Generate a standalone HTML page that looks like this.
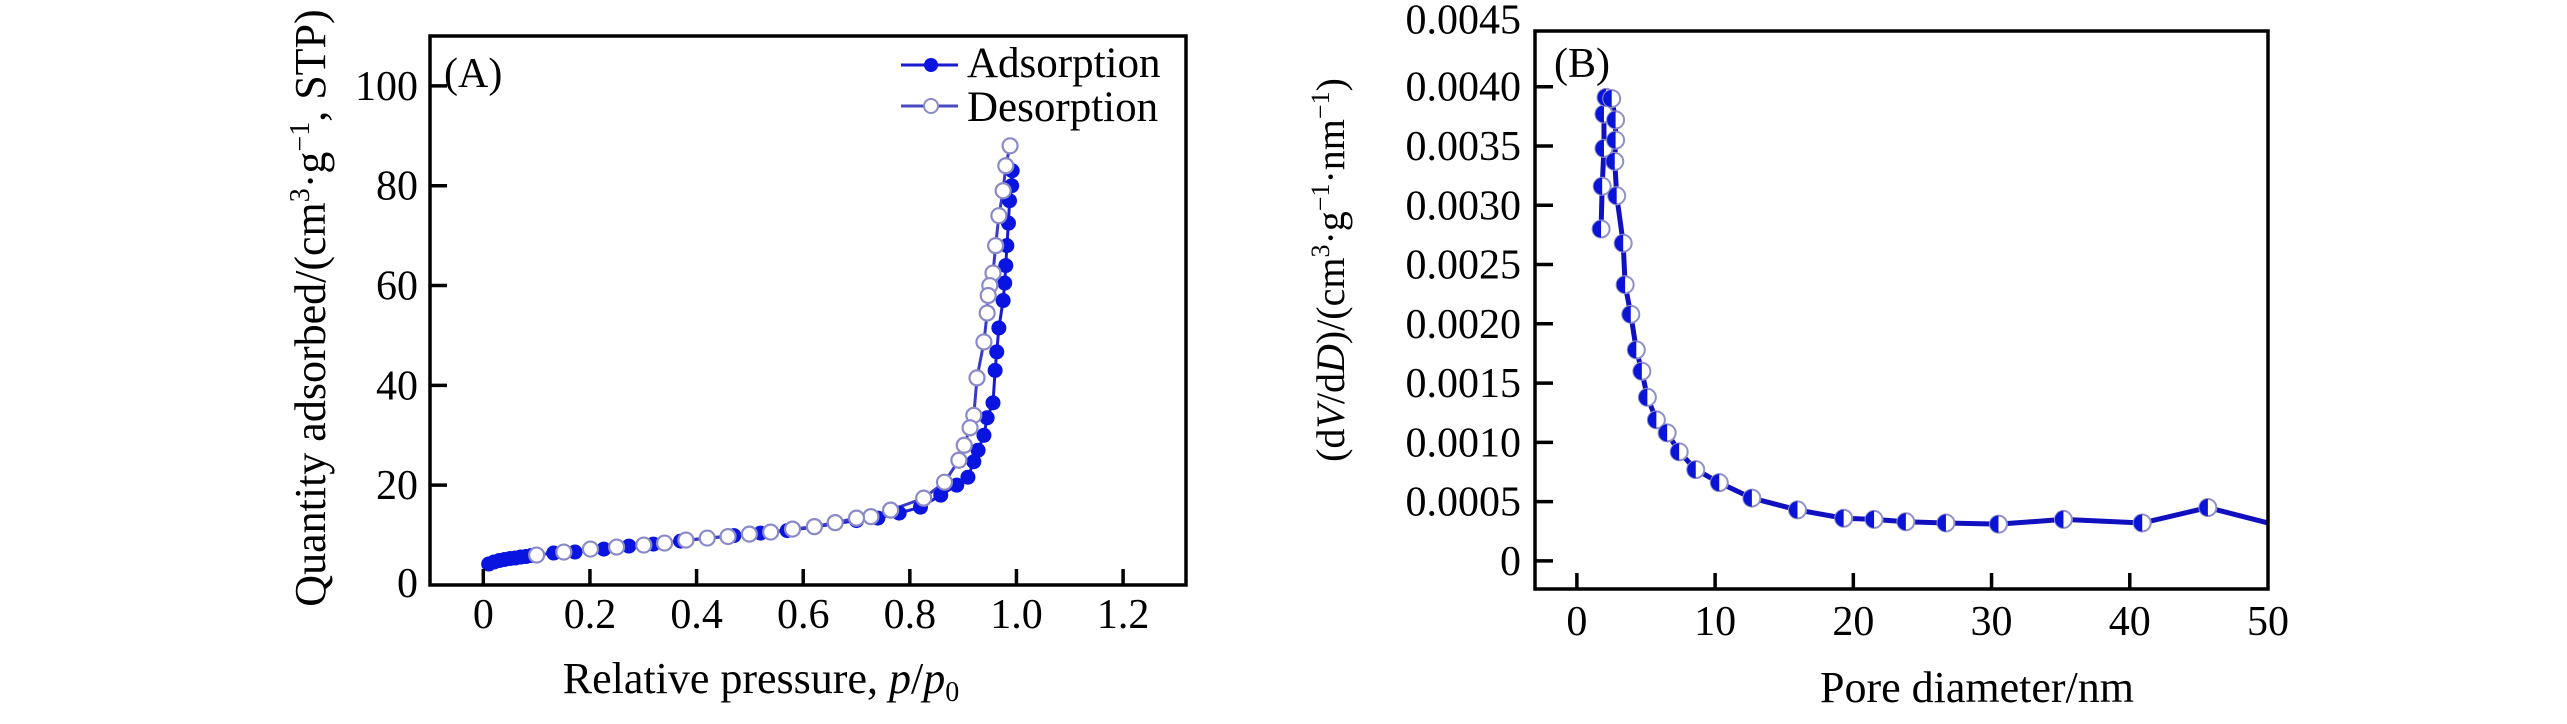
<!DOCTYPE html>
<html><head><meta charset="utf-8"><style>
html,body{margin:0;padding:0;background:#fff;}
svg{display:block;font-family:"Liberation Serif",serif;}
</style></head><body>
<svg id="svg" width="2567" height="724" viewBox="0 0 2567 724" xmlns="http://www.w3.org/2000/svg">
<g id="A"></g>
<g id="B"></g>
<text x="444" y="87" font-size="42">(A)</text>
<text x="1554" y="77" font-size="42">(B)</text>
<text transform="translate(325,308) rotate(-90)" text-anchor="middle" font-size="44">Quantity adsorbed/(cm<tspan font-size="28" dy="-16">3</tspan><tspan dy="16">·g</tspan><tspan font-size="28" dy="-16">−1</tspan><tspan dy="16">, STP)</tspan></text>
<text x="761" y="693" text-anchor="middle" font-size="44">Relative pressure, <tspan font-style="italic">p</tspan>/<tspan font-style="italic">p</tspan><tspan font-size="28" dy="8">0</tspan></text>
<text transform="translate(1344,270) rotate(-90)" text-anchor="middle" font-size="40">(d<tspan font-style="italic">V</tspan>/d<tspan font-style="italic">D</tspan>)/(cm<tspan font-size="26" dy="-15">3</tspan><tspan dy="15">·g</tspan><tspan font-size="26" dy="-15">−1</tspan><tspan dy="15">·nm</tspan><tspan font-size="26" dy="-15">−1</tspan><tspan dy="15">)</tspan></text>
<text x="1977" y="702" text-anchor="middle" font-size="44">Pore diameter/nm</text>
<g>
<line x1="901" y1="65" x2="958" y2="65" stroke="#1a1ad0" stroke-width="3"/>
<circle cx="931" cy="65" r="7" fill="#0a14e0"/>
<text x="967" y="77" font-size="43">Adsorption</text>
<line x1="901" y1="106" x2="958" y2="106" stroke="#4a4ac0" stroke-width="3"/>
<circle cx="931" cy="106" r="7" fill="#fff" stroke="#8a8ac8" stroke-width="2"/>
<text x="967" y="121" font-size="43">Desorption</text>
</g>
</svg>
<script>
// Chart A data
const adsX=[0.01,0.02,0.03,0.04,0.05,0.06,0.07,0.08,0.09,0.132,0.172,0.226,0.273,0.319,0.37,0.42,0.47,0.52,0.57,0.62,0.66,0.70,0.74,0.78,0.82,0.858,0.888,0.909,0.92,0.928,0.939,0.945,0.956,0.96,0.963,0.967,0.975,0.978,0.98,0.982,0.985,0.987,0.991,0.992];
const adsY=[4.2,4.6,4.9,5.1,5.3,5.4,5.6,5.7,5.9,6.4,6.6,7.2,7.8,8.2,8.8,9.4,9.9,10.4,10.9,11.6,12.3,12.9,13.4,14.4,15.6,18,20,21.6,24.7,27,30,33.5,36.5,43,46.7,51.5,57,60.5,64,68,72.5,77,80,83];
const desX=[0.988,0.98,0.975,0.967,0.961,0.956,0.95,0.947,0.945,0.939,0.926,0.92,0.913,0.902,0.892,0.865,0.826,0.764,0.727,0.70,0.66,0.621,0.58,0.539,0.499,0.459,0.42,0.38,0.34,0.301,0.25,0.201,0.151,0.1];
const desY=[88,84,79,74,68,62.5,60,58,54.5,48.7,41.5,34,31.5,28,25,20.6,17.4,15,13.7,13.4,12.5,11.7,11.2,10.6,10.2,9.7,9.4,9,8.4,8,7.6,7.2,6.6,6];
const aXTicks=[0,0.2,0.4,0.6,0.8,1.0,1.2];
const aXTickLabels=["0","0.2","0.4","0.6","0.8","1.0","1.2"];
const aYTicks=[0,20,40,60,80,100];
const aYTickLabels=["0","20","40","60","80","100"];
// Chart B data
const poreX=[1.75,1.83,1.96,1.96,2.11,2.52,2.8,2.8,2.74,2.88,3.35,3.49,3.9,4.3,4.7,5.1,5.75,6.53,7.4,8.6,10.3,12.66,15.96,19.3,21.5,23.8,26.7,30.5,35.2,40.9,45.65];
const poreY=[0.0028,0.00316,0.00348,0.00377,0.00391,0.0039,0.00372,0.00355,0.00337,0.00308,0.00268,0.00233,0.00208,0.00178,0.0016,0.00138,0.00119,0.00108,0.00092,0.00077,0.00066,0.00053,0.00043,0.00036,0.00035,0.00033,0.00032,0.00031,0.00035,0.00032,0.00045];
const poreEndX=[50];
const poreEndY=[0.00032];
const bXTicks=[0,10,20,30,40,50];
const bXTickLabels=["0","10","20","30","40","50"];
const bYTicks=[0,0.0005,0.0010,0.0015,0.0020,0.0025,0.0030,0.0035,0.0040,0.0045];
const bYTickLabels=["0","0.0005","0.0010","0.0015","0.0020","0.0025","0.0030","0.0035","0.0040","0.0045"];

const NS="http://www.w3.org/2000/svg";
function mk(parent,tag,attrs){const e=document.createElementNS(NS,tag);for(const k in attrs)e.setAttribute(k,attrs[k]);parent.appendChild(e);return e;}

// Axis A
const A={l:430,r:1186,t:36,b:585,x0:-0.1,x1:1.318,y0:0,y1:110};
const ax=v=>A.l+(v-A.x0)/(A.x1-A.x0)*(A.r-A.l);
const ay=v=>A.b-(v-A.y0)/(A.y1-A.y0)*(A.b-A.t);
const gA=document.getElementById('A');
let pts=adsX.map((x,i)=>ax(x)+','+ay(adsY[i])).join(' ');
let pl=mk(gA,'polyline',{points:pts,fill:'none',stroke:'#1a1ad0','stroke-width':3});


pts=desX.map((x,i)=>ax(x)+','+ay(desY[i])).join(' ');
pl=mk(gA,'polyline',{points:pts,fill:'none',stroke:'#3a3ac8','stroke-width':3});


adsX.forEach((x,i)=>{const c=mk(gA,'circle',{cx:ax(x),cy:ay(adsY[i]),r:7.5,fill:'#0a14e0'});

});
desX.forEach((x,i)=>{const c=mk(gA,'circle',{cx:ax(x),cy:ay(desY[i]),r:7.5,fill:'#fff',stroke:'#8a8ac8','stroke-width':2.2});

});
let fr=mk(gA,'rect',{x:A.l,y:A.t,width:A.r-A.l,height:A.b-A.t,fill:'none',stroke:'#000','stroke-width':3.5});


aXTicks.forEach((v,i)=>{mk(gA,'line',{x1:ax(v),x2:ax(v),y1:A.b,y2:A.b-16,stroke:'#000','stroke-width':3.5});
const t=mk(gA,'text',{x:ax(v),y:628,'text-anchor':'middle','font-size':42});t.textContent=aXTickLabels[i];

});
aYTicks.forEach((v,i)=>{if(v>0)mk(gA,'line',{x1:A.l,x2:A.l+17,y1:ay(v),y2:ay(v),stroke:'#000','stroke-width':3.5});
const t=mk(gA,'text',{x:418,y:ay(v)+(v===0?12:14),'text-anchor':'end','font-size':42});t.textContent=aYTickLabels[i];

});

// Axis B
const B={l:1535,r:2268,t:31,b:589,x0:-3.03,x1:50,y0:-0.000237,y1:0.00447};
const bx=v=>B.l+(v-B.x0)/(B.x1-B.x0)*(B.r-B.l);
const by=v=>B.b-(v-B.y0)/(B.y1-B.y0)*(B.b-B.t);
const gB=document.getElementById('B');
const allX=poreX.concat(poreEndX),allY=poreY.concat(poreEndY);
pl=mk(gB,'polyline',{points:allX.map((x,i)=>bx(x)+','+by(allY[i])).join(' '),fill:'none',stroke:'#1010c0','stroke-width':5,'stroke-linejoin':'round'});


poreX.forEach((x,i)=>{const cx=bx(x),cy=by(poreY[i]),r=8.5;
const g=mk(gB,'g',{});


mk(g,'circle',{cx:cx,cy:cy,r:r,fill:'#fff',stroke:'#9090c8','stroke-width':2});
mk(g,'path',{d:`M${cx},${cy-r} A${r},${r} 0 0 0 ${cx},${cy+r} Z`,fill:'#0a14d8'});});
fr=mk(gB,'rect',{x:B.l,y:B.t,width:B.r-B.l,height:B.b-B.t,fill:'none',stroke:'#000','stroke-width':3.5});


bXTicks.forEach((v,i)=>{if(v<50)mk(gB,'line',{x1:bx(v),x2:bx(v),y1:B.b,y2:B.b-16,stroke:'#000','stroke-width':3.5});
const t=mk(gB,'text',{x:bx(v),y:635,'text-anchor':'middle','font-size':42});t.textContent=bXTickLabels[i];

});
bYTicks.forEach((v,i)=>{if(v<0.0044)mk(gB,'line',{x1:B.l,x2:B.l+18,y1:by(v),y2:by(v),stroke:'#000','stroke-width':3.5});
const t=mk(gB,'text',{x:1521,y:by(v)+(v>0.0044?6:14),'text-anchor':'end','font-size':42});t.textContent=bYTickLabels[i];

});
</script>
</body></html>
